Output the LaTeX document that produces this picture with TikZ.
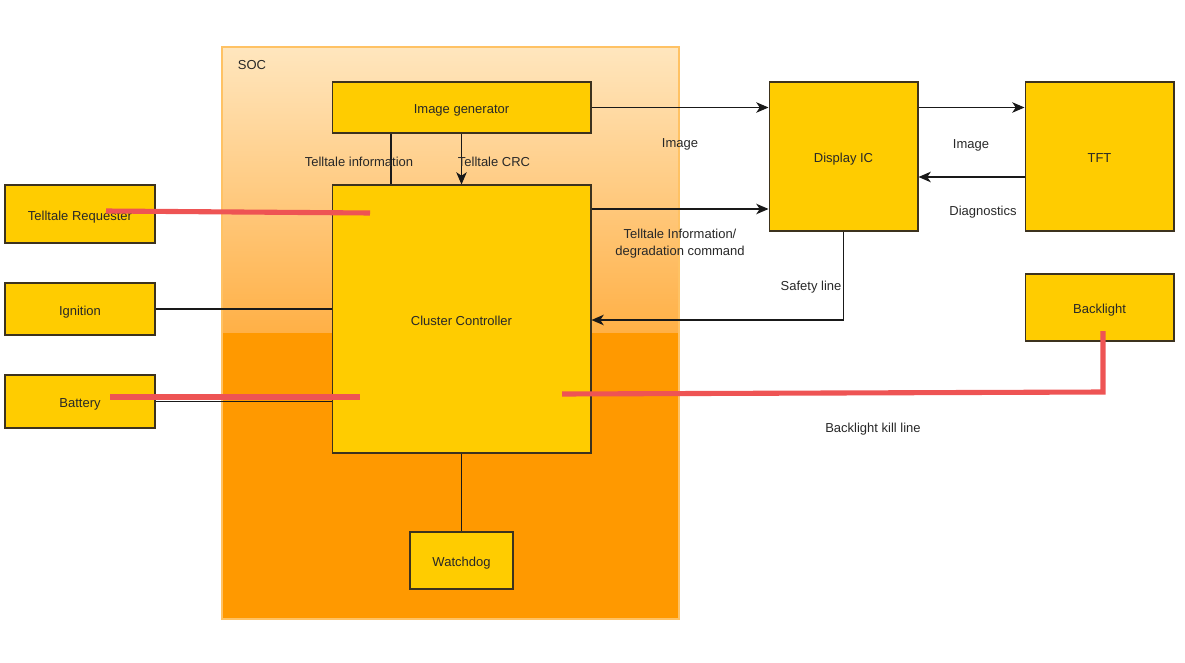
\documentclass[tikz,border=0pt]{standalone}
\usepackage{fontspec}
\setmainfont{Liberation Sans}
\usetikzlibrary{arrows.meta}
\definecolor{boxyellow}{RGB}{255,204,0}
\definecolor{boxline}{RGB}{60,50,30}
\definecolor{linkline}{RGB}{25,25,25}
\definecolor{soctop}{RGB}{255,230,190}
\definecolor{socmid}{RGB}{255,176,70}
\definecolor{socbottom}{RGB}{255,153,0}
\definecolor{socborder}{RGB}{255,194,100}
\definecolor{killred}{RGB}{238,84,84}
\definecolor{textgray}{RGB}{40,40,40}
\tikzset{
  block/.style={draw=boxline,fill=boxyellow,text=textgray,inner sep=0pt,line width=0.6pt,
    text height=0.716em,text depth=0pt},
  lbl/.style={text=textgray,inner sep=0pt,text height=0.716em,text depth=0pt},
  link/.style={draw=linkline,line width=0.6pt},
  arr/.style={link,-{Stealth[length=7pt,width=6pt,inset=2pt]}},
  killline/.style={draw=killred,line width=2.9pt},
}

\begin{document}
\begin{tikzpicture}[x=0.02cm,y=-0.02cm,font=\fontsize{7.4}{9.6}\selectfont]
\useasboundingbox (0,0) rectangle (1185,662);
% SOC
\shade[top color=soctop,bottom color=socmid] (222,47) rectangle (679,333);
\fill[socbottom] (222,333) rectangle (679,619);
\draw[socborder,line width=1.2pt] (222,47) rectangle (679,619);
\node[lbl] (soc) at (252,63) {SOC};
%
% blocks
%
\node[block,minimum width=5.18cm,minimum height=1.02cm] (imggen) at (461.5,107.5) {Image generator};
\node[block,minimum width=5.18cm,minimum height=5.36cm] (ctrl) at (461.5,319) {Cluster Controller};
\node[block,minimum width=2.06cm,minimum height=1.14cm] (watchdog) at (461.5,560.5) {Watchdog};
\node[block,minimum width=3cm,minimum height=1.16cm] (requester) at (80,214) {Telltale Requester};
\node[block,minimum width=3cm,minimum height=1.04cm] (ignition) at (80,309) {Ignition};
\node[block,minimum width=3cm,minimum height=1.06cm] (battery) at (80,401.5) {Battery};
\node[block,minimum width=2.98cm,minimum height=2.98cm] (displayic) at (843.5,156.5) {Display IC};
\node[block,minimum width=2.98cm,minimum height=2.98cm] (tft) at (1099.5,156.5) {TFT};
\node[block,minimum width=2.98cm,minimum height=1.34cm] (backlight) at (1099.5,307.5) {Backlight};
%
% connectors
%
\draw[arr] (imggen.east) -- (imggen.east -| displayic.west);
\draw[arr] (displayic.east |- imggen.east) -- (tft.west |- imggen.east);
\draw[arr] (tft.west |- 0,177) -- (displayic.east |- 0,177);
\draw[arr] (ctrl.east |- 0,209) -- (displayic.west |- 0,209);
\draw[arr] (displayic.south) -- (displayic.south |- 0,320) -- (ctrl.east |- 0,320);
\draw[link] (imggen.south -| 391,0) -- (ctrl.north -| 391,0);
\draw[arr] (imggen.south) -- (ctrl.north);
\draw[link] (ignition.east) -- (ignition.east -| ctrl.west);
\draw[link] (battery.east) -- (battery.east -| ctrl.west);
\draw[link] (ctrl.south) -- (watchdog.north);
%
% labels
%
\node[lbl] (lblinfo) at (359,160) {Telltale information};
\node[lbl] (lblcrc) at (494,160) {Telltale CRC};
\node[lbl] (lblimage) at (680,141) {Image};
\node[lbl,align=center] (lbldegr) at (680,249) {Telltale Information/\\degradation command};
\node[lbl] (lbltftimage) at (971,142) {Image};
\node[lbl] (lbldiag) at (983,209) {Diagnostics};
\node[lbl] (lblsafety) at (811,284) {Safety line};
\node[lbl] (lblkill) at (873,426) {Backlight kill line};
%
% red
%
\coordinate (reqstart) at (106,211);
\coordinate (reqend) at (370,213);
\coordinate (batstart) at (110,397);
\coordinate (batend) at (360,397);
\coordinate (killstart) at (562,394);
\coordinate (killcorner) at (1103,392);
\coordinate (killend) at (1103,331);
\draw[killline] (reqstart) -- (reqend);
\draw[killline] (batstart) -- (batend);
\draw[killline] (killstart) -- (killcorner) -- (killend);
\end{tikzpicture}
\end{document}
